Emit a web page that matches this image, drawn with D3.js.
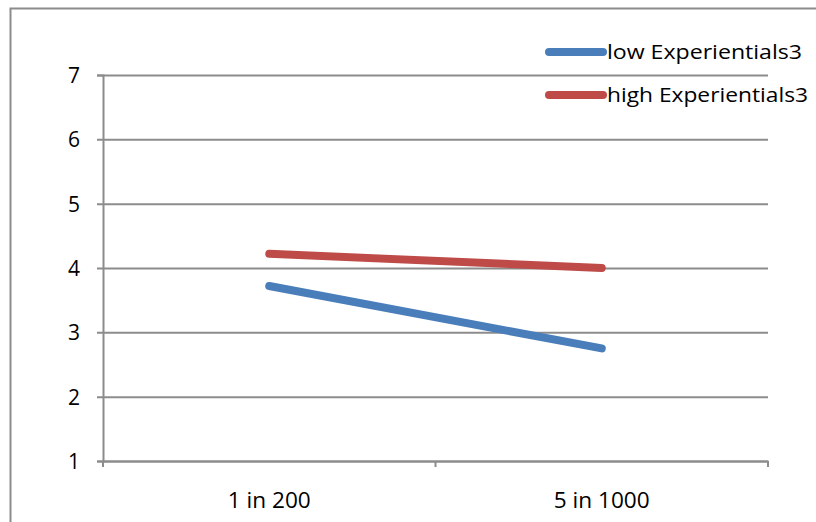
<!DOCTYPE html>
<html>
<head>
<meta charset="utf-8">
<script src="https://cdn.jsdelivr.net/npm/d3@7"></script>
<style>
  html, body { margin: 0; padding: 0; background: #fff; }
  svg text { font-family: "Open Sans", sans-serif; fill: #000; }
</style>
</head>
<body>
<svg id="chart" width="816" height="522"></svg>
<script>
// Chart data
const categories = ["1 in 200", "5 in 1000"];
const seriesNames = ["low Experientials3", "high Experientials3"];
const lowValues = [3.72, 2.75];
const highValues = [4.22, 4.0];
const yTicks = [1, 2, 3, 4, 5, 6, 7];

const colors = ["#4a7ebb", "#be4b48"];
const series = [
  { name: seriesNames[0], values: lowValues, color: colors[0], width: 195 },
  { name: seriesNames[1], values: highValues, color: colors[1], width: 201 }
];
const categoryWidths = [83, 96];

const svg = d3.select("#chart");
const plot = { left: 103, right: 768, top: 75, bottom: 461 };

// Outer frame (left and top edges visible)
svg.append("path")
  .attr("d", "M10.5,522 L10.5,8.5 L816,8.5")
  .attr("fill", "none")
  .attr("stroke", "#8c8c8c")
  .attr("stroke-width", 2);

const x = d3.scaleBand().domain(categories).range([plot.left, plot.right]);
const y = d3.scaleLinear().domain([1, 7]).range([plot.bottom, plot.top]);

// Horizontal gridlines with outward ticks
const yAxis = d3.axisLeft(y).tickValues(yTicks).tickSize(6).tickFormat(d3.format("d"));
const yG = svg.append("g").attr("transform", `translate(${plot.left},0)`).call(yAxis);
yG.attr("font-size", null).attr("font-family", null);
yG.select(".domain").attr("stroke", "#8c8c8c").attr("stroke-width", 2);
yG.selectAll(".tick line").attr("stroke", "#8c8c8c").attr("stroke-width", 2)
  .attr("x1", -6).attr("x2", plot.right - plot.left);
yG.selectAll(".tick text")
  .attr("x", -23).attr("dy", "0.36em")
  .attr("font-size", 21);

// Category axis
const xAxis = d3.axisBottom(x).tickSize(0).tickSizeOuter(0);
const xG = svg.append("g").attr("transform", `translate(0,${plot.bottom})`).call(xAxis);
xG.attr("font-size", null).attr("font-family", null);
xG.select(".domain").attr("stroke", "#8c8c8c").attr("stroke-width", 2);
xG.selectAll(".tick text")
  .attr("y", 47).attr("dy", "0")
  .attr("font-size", 21)
  .attr("textLength", (d, i) => categoryWidths[i])
  .attr("lengthAdjust", "spacingAndGlyphs");
// Tick marks at band edges
const edges = categories.map(c => x(c)).concat([x(categories[categories.length - 1]) + x.bandwidth()]);
xG.selectAll("line.edge").data(edges).enter().append("line")
  .attr("class", "edge")
  .attr("x1", d => d).attr("x2", d => d)
  .attr("y1", 0).attr("y2", 6)
  .attr("stroke", "#8c8c8c").attr("stroke-width", 2);

// Series lines
const line = d3.line()
  .x((d, i) => x(categories[i]) + x.bandwidth() / 2)
  .y(d => y(d));

svg.append("g").selectAll("path.series").data(series).enter().append("path")
  .attr("class", "series")
  .attr("d", d => line(d.values))
  .attr("fill", "none")
  .attr("stroke", d => d.color)
  .attr("stroke-width", 8)
  .attr("stroke-linecap", "round")
  .attr("stroke-linejoin", "round");

// Legend
const legend = svg.append("g").attr("transform", "translate(545,52)");
const items = legend.selectAll("g").data(series).enter().append("g")
  .attr("transform", (d, i) => `translate(0,${i * 43})`);
items.append("line")
  .attr("x1", 4).attr("x2", 58).attr("y1", 0).attr("y2", 0)
  .attr("stroke", d => d.color).attr("stroke-width", 8)
  .attr("stroke-linecap", "round");
items.append("text")
  .attr("x", 62).attr("y", 7)
  .attr("font-size", 20)
  .attr("textLength", d => d.width)
  .attr("lengthAdjust", "spacingAndGlyphs")
  .text(d => d.name);
</script>
</body>
</html>
